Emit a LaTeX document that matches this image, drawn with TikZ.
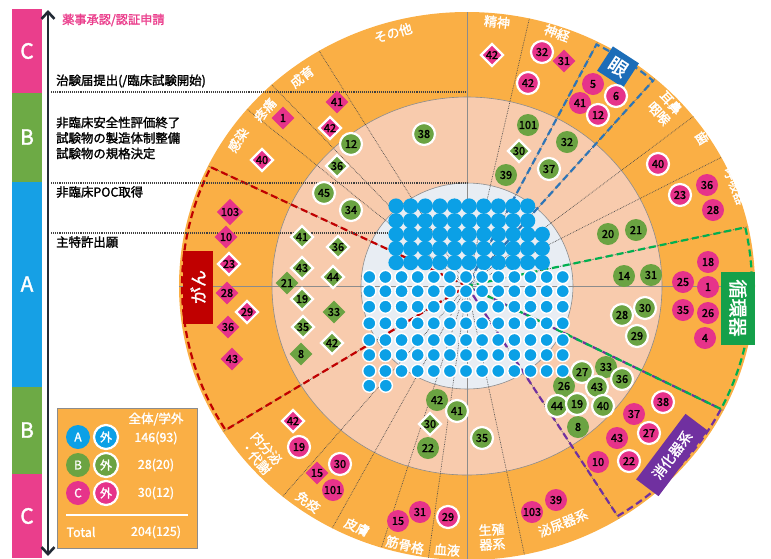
\documentclass[tikz,border=0pt]{standalone}
\usepackage{fontspec}
\setmainfont{Noto Sans CJK JP}[BoldFont={Noto Sans CJK JP},BoldFeatures={FakeBold=1.6}]
\usetikzlibrary{shapes.geometric,arrows.meta}
\definecolor{ringO}{HTML}{FAAF45}
\definecolor{ringP}{HTML}{F8CBAD}
\definecolor{ringI}{HTML}{E8EDF3}
\definecolor{dotB}{HTML}{0BA0E6}
\definecolor{mag}{HTML}{E6338A}
\definecolor{grn}{HTML}{6BA342}
\definecolor{barC}{HTML}{EA3E8C}
\definecolor{barB}{HTML}{6DAA45}
\definecolor{barA}{HTML}{16A0E5}
\definecolor{navy}{HTML}{222A35}
\definecolor{redD}{HTML}{C00000}
\definecolor{bluD}{HTML}{2E75B6}
\definecolor{bluBox}{HTML}{1C6DB8}
\definecolor{grnD}{HTML}{00B050}
\definecolor{grnBox}{HTML}{14A04A}
\definecolor{purD}{HTML}{7030A0}
\definecolor{lineG}{HTML}{8C8C8C}
\begin{document}
\begin{tikzpicture}[x=1pt,y=1pt,
  barlab/.style={text=white,font=\bfseries\fontsize{21}{21}\selectfont},
  lbl/.style={anchor=west,inner sep=0,font=\bfseries\fontsize{12.4}{15.5}\selectfont,align=left},
  ringlbl/.style={text=white,inner sep=0,align=center,font=\bfseries\fontsize{13}{14.5}\selectfont},
  mkbase/.style={circle,minimum size=22,inner sep=0,font=\bfseries\fontsize{11}{11}\selectfont,text=black},
  mkcp/.style={mkbase,fill=mag},
  mkcw/.style={mkcp,draw=white,line width=2.2},
  mkgp/.style={mkbase,fill=grn},
  mkgw/.style={mkgp,draw=white,line width=2.2},
  mkdbase/.style={diamond,aspect=1,minimum width=23,minimum height=23,inner sep=0,font=\bfseries\fontsize{11}{11}\selectfont,text=black},
  mkdp/.style={mkdbase,fill=mag},
  mkdw/.style={mkdp,draw=white,line width=2.2},
  mkgdp/.style={mkdbase,fill=grn},
  mkgdw/.style={mkgdp,draw=white,line width=2.2},
  radline/.style={densely dotted,draw=black!70,line width=0.7},
  axisline/.style={draw=lineG,line width=0.6},
  hdotline/.style={densely dotted,draw=black!75,line width=1.1},
  wedgeline/.style={dash pattern=on 7pt off 4pt,line width=2.2},
  lgcirc/.style={circle,minimum size=24,inner sep=0,text=white,font=\bfseries\fontsize{12}{12}\selectfont},
  lgtext/.style={text=white,font=\bfseries\fontsize{12.5}{12.5}\selectfont}
]
\useasboundingbox (0,0) rectangle (771,-558);

% ---- left bar
\fill[barC] (12,-9) rectangle (42,-93);
\fill[barB] (12,-93) rectangle (42,-182);
\fill[barA] (12,-182) rectangle (42,-387);
\fill[barB] (12,-387) rectangle (42,-474);
\fill[barC] (12,-474) rectangle (42,-558);
\node[barlab] (bC1) at (27,-51) {C};
\node[barlab] (bB1) at (27,-137) {B};
\node[barlab] (bA) at (27,-284) {A};
\node[barlab] (bB2) at (27,-430) {B};
\node[barlab] (bC2) at (27,-516) {C};

% ---- rings
\begin{scope}[shift={(467,-286)}]
\fill[ringO] (0,0) ellipse [x radius=288, y radius=274];
\filldraw[fill=ringP,draw=lineG,line width=0.6] (0,0) ellipse [x radius=195, y radius=189];
\filldraw[fill=ringI,draw=lineG,line width=0.6] (0,0) ellipse [x radius=106, y radius=103];
\foreach \a in {77.5,63,49.25,38.2,28,12.5,-27,-58.1,-78.5,-97.7,-107.3,-117.9,-129.8,-147.9,154,139.8,132.7,120.9}
  \draw[radline] (0,0) -- (\a:288 and 274);
\draw[axisline] (-288,0) -- (288,0);
\draw[axisline] (0,274) -- (0,-274);
\draw[wedgeline,redD] (0,0) -- (154:285 and 271) arc[start angle=154,end angle=212.1,x radius=285,y radius=271] -- cycle;
\draw[wedgeline,bluD] (0,0) -- (49.25:285 and 271) arc[start angle=49.25,end angle=63,x radius=285,y radius=271] -- cycle;
\draw[wedgeline,purD] (0,0) -- (-58.1:285 and 271) arc[start angle=-58.1,end angle=-27,x radius=285,y radius=271] -- cycle;
\draw[wedgeline,grnD] (0,0) -- (-27:285 and 271) arc[start angle=-27,end angle=12.5,x radius=285,y radius=271] -- cycle;
\end{scope}

% ---- arrow and horizontal dotted lines
\coordinate (arT) at (48,-10);
\coordinate (arB) at (48,-556);
\draw[navy,line width=2.6,{Straight Barb[length=7,width=13]}-{Straight Barb[length=7,width=13]}] (arT) -- (arB);
\coordinate (h1s) at (51,-92);  \coordinate (h1e) at (465,-92);
\coordinate (h2s) at (51,-183); \coordinate (h2e) at (467,-183);
\coordinate (h3s) at (51,-233); \coordinate (h3e) at (467,-233);
\draw[hdotline] (h1s) -- (h1e);
\draw[hdotline] (h2s) -- (h2e);
\draw[hdotline] (h3s) -- (h3e);

% ---- left texts
\node[lbl,text=barC,font=\bfseries\fontsize{12.2}{12}\selectfont] (t0) at (62,-20) {薬事承認/認証申請};
\node[lbl] (t1) at (56,-81) {治験届提出(/臨床試験開始)};
\node[lbl] (t2) at (56,-138) {非臨床安全性評価終了\\試験物の製造体制整備\\試験物の規格決定};
\node[lbl] (t3) at (56,-192) {非臨床POC取得};
\node[lbl] (t4) at (56,-242) {主特許出願};

% ---- ring labels
\node[ringlbl,rotate=16] (l1) at (393,-33) {その他};
\node[ringlbl,rotate=-6] (l2) at (497,-22) {精神};
\node[ringlbl,rotate=-20] (l3) at (557,-33) {神経};
\node[ringlbl,rotate=-48,font=\bfseries\fontsize{13}{16}\selectfont] (l4) at (665,-108) {耳鼻\\咽喉};
\node[ringlbl,rotate=-58] (l5) at (702,-138) {歯};
\node[ringlbl,rotate=-68] (l6) at (735,-186) {呼吸器};
\node[ringlbl,rotate=22] (l7) at (563,-523) {泌尿器系};
\node[ringlbl,rotate=3] (l8) at (492,-537) {生殖\\器系};
\node[ringlbl,rotate=-4] (l9) at (447,-550) {血液};
\node[ringlbl,rotate=-13] (l10) at (405,-545) {筋骨格};
\node[ringlbl,rotate=-24] (l11) at (357,-527) {皮膚};
\node[ringlbl,rotate=-36] (l12) at (308,-502) {免疫};
\node[ringlbl,rotate=-49] (l13) at (261,-453) {内分泌\\・代謝};
\node[ringlbl,rotate=58] (l14) at (238,-140) {感染};
\node[ringlbl,rotate=49] (l15) at (265,-110) {疼痛};
\node[ringlbl,rotate=38] (l16) at (302,-77) {成育};

% ---- coloured boxes
\node[fill=bluBox,text=white,rotate=-33,minimum width=31,minimum height=29,inner sep=0,font=\bfseries\fontsize{19}{19}\selectfont] (eye) at (618,-67) {眼};
\node[fill=grnBox,text=white,rotate=-90,minimum width=73,minimum height=34,inner sep=0,font=\bfseries\fontsize{19}{19}\selectfont] (circ) at (738,-308) {循環器};
\node[fill=redD,text=white,rotate=90,minimum width=73,minimum height=30,inner sep=0,font=\bfseries\fontsize{17}{17}\selectfont] (gan) at (198,-287) {がん};
\node[fill=purD,text=white,rotate=53,minimum width=82,minimum height=28,inner sep=0,font=\bfseries\fontsize{14}{14}\selectfont] (dig) at (672,-455) {消化器系};

% ---- markers
\foreach [count=\k] \x/\y/\t in {5/593/84,41/580/103,36/707/185,28/713/210,18/708/262,25/683/282,1/708/287,35/683/310,26/708/313,4/705/338,37/634/414,43/617/438,10/598/462,103/532/512,39/556/500,31/420/512,15/398/521,101/333/490}
  \node[mkcp] (cp\k) at (\y,-\t) {\x};
\foreach [count=\k] \x/\y/\t in {32/542/52,42/528/83,6/616/96,12/598/115,40/658/164,23/680/195,38/663/402,27/649/433,22/629/461,29/448/517,30/340/464,19/299/447}
  \node[mkcw] (cw\k) at (\y,-\t) {\x};
\foreach [count=\k] \x/\y/\t in {41/337/102,1/283/118,31/564/61,15/317/473,103/230/212,10/226/237,28/227/293,36/228/327,43/232/359}
  \node[mkdp] (dp\k) at (\y,-\t) {\x};
\foreach [count=\k] \x/\y/\t in {42/330/128,40/262/160,42/492/55,42/293/421,23/229/264,29/247/312}
  \node[mkdw] (dw\k) at (\y,-\t) {\x};
\foreach [count=\k] \x/\y/\t in {101/528/125,39/506/175,32/567/142,20/608/234,21/636/230,14/624/276,31/651/275,33/606/367,26/564/386,8/578/427,42/437/400,22/428/448}
  \node[mkgp] (gp\k) at (\y,-\t) {\x};
\foreach [count=\k] \x/\y/\t in {38/424/134,12/351/144,45/324/193,34/351/210,37/549/169,28/622/315,30/645/308,29/637/336,27/582/372,36/622/379,43/597/387,44/557/406,19/577/404,40/603/406,41/457/411,35/482/438}
  \node[mkgw] (gw\k) at (\y,-\t) {\x};
\foreach [count=\k] \x/\y/\t in {21/287/283,33/334/312,8/301/354}
  \node[mkgdp] (gd\k) at (\y,-\t) {\x};
\foreach [count=\k] \x/\y/\t in {36/337/166,30/519/151,30/430/424,41/302/237,36/338/247,43/302/268,44/333/277,19/302/299,35/303/327,42/332/343}
  \node[mkgdw] (gdw\k) at (\y,-\t) {\x};

% ---- blue dots: upper block
\foreach \r/\n in {206/9,220.7/9,234.3/10,248.4/10,262.6/10}
  \foreach \i in {0,...,\n}
    \fill[dotB] ({396+14.63*\i},-\r) circle[radius=7.6];
% ---- lower block (white border)
\foreach \r in {277,291.2,306.7,323.3,340,355,371}
  \foreach \i in {0,...,12}
    \filldraw[fill=dotB,draw=white,line width=1.4] ({369.3+16.12*\i},-\r) circle[radius=6.6];
\filldraw[fill=dotB,draw=white,line width=1.4] (369.3,-385.7) circle[radius=6.6];
\filldraw[fill=dotB,draw=white,line width=1.4] (385.8,-385.7) circle[radius=6.6];

% ---- legend
\filldraw[fill=ringO,draw=lineG,line width=0.8] (57,-408) rectangle (197,-548);
\node[lgtext] (lgh) at (156,-419) {全体/学外};
\node[lgcirc,fill=dotB] (lgA) at (78,-437) {A};
\node[lgcirc,fill=dotB,draw=white,line width=2.2] (lgAx) at (106,-437) {外};
\node[lgtext] (lgAn) at (156,-438) {146(93)};
\node[lgcirc,fill=grn] (lgB) at (78,-465) {B};
\node[lgcirc,fill=grn,draw=white,line width=2.2] (lgBx) at (106,-465) {外};
\node[lgtext] (lgBn) at (156,-465) {28(20)};
\node[lgcirc,fill=mag] (lgC) at (78,-493) {C};
\node[lgcirc,fill=mag,draw=white,line width=2.2] (lgCx) at (106,-493) {外};
\node[lgtext] (lgCn) at (156,-493) {30(12)};
\coordinate (lgL1) at (66,-515);
\coordinate (lgL2) at (188,-515);
\draw[white,line width=1.5] (lgL1) -- (lgL2);
\node[lgtext,anchor=west] (lgT) at (63,-532) {Total};
\node[lgtext] (lgTn) at (156,-532) {204(125)};
\end{tikzpicture}
\end{document}
